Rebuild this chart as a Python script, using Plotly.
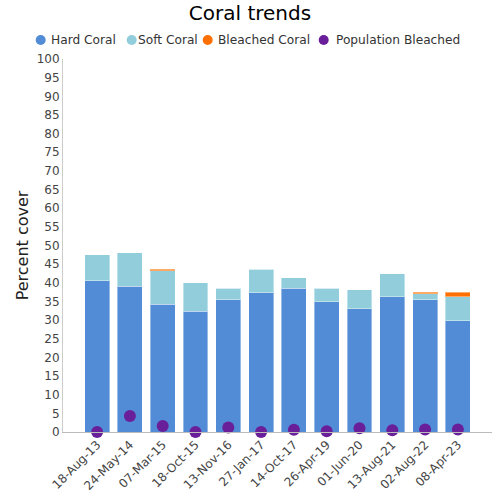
import plotly.graph_objects as go

dates = ["18-Aug-13", "24-May-14", "07-Mar-15", "18-Oct-15", "13-Nov-16", "27-Jan-17",
         "14-Oct-17", "26-Apr-19", "01-Jun-20", "13-Aug-21", "02-Aug-22", "08-Apr-23"]
hard = [40.5, 39.1, 34.3, 32.4, 35.4, 37.3, 38.6, 34.9, 33.0, 36.2, 35.4, 29.8]
soft = [7.0, 8.9, 8.9, 7.6, 3.2, 6.4, 2.7, 3.7, 5.1, 6.2, 1.6, 6.4]
bleached = [0.0, 0.0, 0.5, 0.0, 0.0, 0.0, 0.0, 0.0, 0.0, 0.0, 0.5, 1.3]
pop_bleached = [0.0, 4.3, 1.6, 0.0, 1.2, 0.0, 0.6, 0.2, 1.0, 0.5, 0.7, 0.7]

series_names = ["Hard Coral", "Soft Coral", "Bleached Coral", "Population Bleached"]
series_colors = ["#528BD6", "#92CDDC", "#FF7000", "#6A1F9A"]

W, H = 500, 500
L, R, T, B = 63, 8, 59, 68
PW, PH = W - L - R, H - T - B


def px_x(p):
    return (p - L) / PW


def px_y(p):
    return (H - B - p) / PH


fig = go.Figure()
line = dict(color="rgba(255,255,255,0.4)", width=1)
for vals, nm, col in zip([hard, soft, bleached], series_names[:3], series_colors[:3]):
    fig.add_bar(x=dates, y=vals, marker=dict(color=col, line=line), name=nm, showlegend=False)
fig.add_scatter(x=dates, y=pop_bleached, mode="markers", marker=dict(color=series_colors[3], size=12),
                name=series_names[3], showlegend=False, cliponaxis=False)

# legend row (single line, like the reference)
sym_x = [40.7, 131.7, 207.7, 323.7]
txt_x = [49.0, 136.0, 216.0, 333.5]
leg_y = 40
shapes, annos = [], []
for nm, col, sx, tx in zip(series_names, series_colors, sym_x, txt_x):
    shapes.append(dict(type="circle", xref="paper", yref="paper", xsizemode="pixel",
                       ysizemode="pixel", xanchor=px_x(sx), yanchor=px_y(leg_y),
                       x0=-5, x1=5, y0=-5, y1=5, fillcolor=col, line=dict(width=0)))
    annos.append(dict(text=nm, xref="paper", yref="paper", x=px_x(tx), y=px_y(leg_y),
                      xanchor="left", yanchor="middle", showarrow=False,
                      font=dict(size=12.2, color="#333")))

fig.update_layout(
    width=W, height=H,
    barmode="stack", bargap=0.24,
    margin=dict(l=L, r=R, t=T, b=B, autoexpand=False),
    paper_bgcolor="white", plot_bgcolor="white",
    font=dict(family="DejaVu Sans", size=12, color="#444"),
    showlegend=False,
    title=dict(text="Coral trends", x=0.5, xanchor="center", y=1 - 13 / H, yanchor="middle",
               font=dict(size=20, color="black")),
    shapes=shapes, annotations=annos,
    xaxis=dict(type="category", range=[-1.04, 12.04], tickangle=-45, showline=True,
               linecolor="#bbb", linewidth=1, showgrid=False, ticks="", tickfont=dict(size=12),
               automargin=False),
    yaxis=dict(range=[0, 100], dtick=5, showline=True, linecolor="#ccc", linewidth=1,
               showgrid=False, zeroline=False, ticks="", tickfont=dict(size=12),
               automargin=False,
               title=dict(text="Percent cover", font=dict(size=16, color="#222"), standoff=4)),
)

fig.write_html("out.html", config={"displayModeBar": False},
               post_script="document.body.style.margin='0px';")
